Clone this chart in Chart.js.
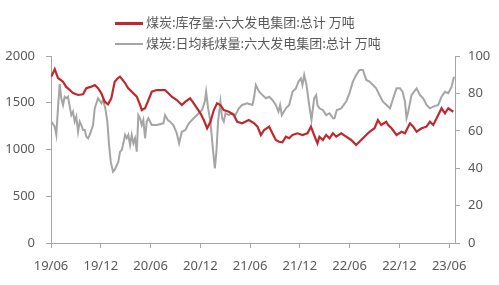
<!DOCTYPE html>
<html>
<head>
<meta charset="utf-8">
<script src="https://cdn.jsdelivr.net/npm/chart.js"></script>
<style>
  body { margin: 0; background: #fff; }
  #wrap { position: relative; width: 499px; height: 285px; }
  .legend { position: absolute; left: 115px; font: 13px "Noto Sans CJK SC", sans-serif; color: #595959; white-space: nowrap; }
  .legend span { display: inline-block; width: 28px; height: 2px; vertical-align: middle; margin-right: 3px; }
</style>
</head>
<body>
<div id="wrap">
  <canvas id="chart" width="499" height="285"></canvas>
  <div class="legend" style="top:12px"><span style="background:#c0282e;height:3px"></span>煤炭:库存量:六大发电集团:总计 万吨</div>
  <div class="legend" style="top:33px"><span style="background:#a5a5a5"></span>煤炭:日均耗煤量:六大发电集团:总计 万吨</div>
</div>
<script>
// x values are months since 2019-06
const tickMonths = [0, 6, 12, 18, 24, 30, 36, 42, 48];
const tickLabels = ['19/06', '19/12', '20/06', '20/12', '21/06', '21/12', '22/06', '22/12', '23/06'];

const stockMonths = [0.04, 0.45, 0.84, 1.45, 1.81, 2.26, 2.65, 3.26, 3.86, 4.26, 4.86, 5.27, 5.67, 6.07, 6.48, 6.88,
  7.27, 7.68, 8.08, 8.32, 8.93, 9.29, 9.89, 10.34, 10.74, 10.94, 11.34, 11.74, 12.15, 12.75, 13.75, 14.15, 14.56,
  15.16, 15.77, 16.2, 16.77, 17.21, 17.61, 18.01, 18.42, 18.82, 19.22, 19.63, 20.02, 20.42, 20.83, 21.44, 22.04,
  22.44, 23.04, 23.85, 24.49, 24.89, 25.3, 25.69, 26.3, 26.69, 27.1, 27.5, 27.9, 28.31, 28.71, 29.11, 29.71, 30.31,
  30.92, 31.33, 31.72, 32.12, 32.36, 32.77, 33.17, 33.57, 33.98, 34.38, 34.98, 35.58, 36.19, 36.79, 37.39, 38.0,
  38.4, 39.0, 39.41, 39.81, 40.41, 40.65, 41.05, 41.65, 42.26, 42.67, 43.27, 43.67, 44.07, 44.67, 45.27, 45.68,
  46.08, 46.68, 47.08, 47.49, 47.89, 48.49];
const stockValues = [1780, 1860, 1765, 1725, 1672, 1636, 1604, 1583, 1590, 1655, 1672, 1690, 1655, 1601, 1511, 1483,
  1548, 1725, 1765, 1779, 1711, 1658, 1604, 1565, 1476, 1422, 1441, 1529, 1618, 1636, 1636, 1601, 1565,
  1529, 1476, 1511, 1548, 1494, 1441, 1387, 1315, 1227, 1297, 1422, 1494, 1476, 1422, 1404, 1369,
  1297, 1280, 1315, 1280, 1244, 1155, 1209, 1244, 1173, 1102, 1083, 1077, 1137, 1120, 1155, 1173, 1155,
  1173, 1244, 1155, 1066, 1137, 1102, 1155, 1120, 1173, 1137, 1173, 1137, 1102, 1048, 1102, 1155,
  1190, 1227, 1315, 1262, 1297, 1262, 1227, 1155, 1190, 1173, 1280, 1244, 1190, 1227, 1244, 1297,
  1262, 1369, 1441, 1387, 1441, 1404];

const burnMonths = [0.04, 0.45, 0.64, 0.84, 1.05, 1.24, 1.45, 1.65, 1.85, 2.05, 2.26, 2.45, 2.65, 2.86, 3.05, 3.26,
  3.46, 3.65, 3.86, 4.07, 4.26, 4.46, 4.67, 5.07, 5.27, 5.67, 6.07, 6.27, 6.55, 6.79, 7.0, 7.2, 7.48, 7.72, 8.12,
  8.32, 8.53, 8.72, 8.93, 9.13, 9.32, 9.53, 9.73, 9.93, 10.13, 10.34, 10.53, 10.74, 10.94, 11.13, 11.34, 11.54,
  11.74, 12.15, 12.75, 13.55, 13.75, 14.08, 14.35, 14.75, 15.16, 15.44, 15.77, 16.2, 16.61, 17.21, 17.82, 18.21,
  18.54, 18.7, 18.94, 19.22, 19.51, 19.75, 19.94, 20.14, 20.42, 20.63, 20.83, 21.03, 21.44, 21.83, 22.23, 22.64,
  23.04, 23.64, 24.28, 24.49, 24.69, 25.09, 25.49, 25.9, 26.3, 26.69, 27.1, 27.42, 27.62, 27.83, 28.31, 28.71,
  29.11, 29.52, 29.83, 30.12, 30.31, 30.52, 30.8, 31.12, 31.4, 31.72, 31.96, 32.12, 32.36, 32.77, 33.17, 33.57,
  33.98, 34.17, 34.46, 34.98, 35.58, 35.98, 36.39, 36.79, 37.19, 37.6, 38.0, 38.4, 38.81, 39.2, 39.6, 40.01,
  40.45, 40.86, 41.25, 41.65, 42.06, 42.38, 42.67, 42.86, 43.06, 43.46, 44.07, 44.48, 44.87, 45.27, 45.68,
  46.08, 46.68, 47.08, 47.49, 47.89, 48.29, 48.58];
const burnValues = [64.9, 62.2, 57.8, 72.0, 85.0, 77.4, 73.8, 78.2, 77.4, 78.2, 72.9, 68.4, 70.2, 64.9, 67.5, 59.5,
  64.9, 63.1, 60.4, 60.4, 56.8, 56.0, 57.8, 63.1, 72.0, 77.4, 74.7, 76.5, 72.0, 64.9, 52.4, 43.5, 38.1, 39.5, 43.5,
  48.8, 49.7, 53.3, 57.8, 56.0, 57.8, 52.4, 57.8, 53.3, 56.0, 48.8, 68.4, 66.7, 63.1, 65.8, 56.0, 64.9,
  66.7, 63.1, 63.1, 64.0, 68.4, 65.8, 64.9, 63.1, 58.7, 53.3, 59.5, 60.4, 64.0, 66.7, 69.4, 71.1,
  75.6, 80.9, 72.0, 64.9, 50.6, 39.9, 48.8, 64.9, 75.6, 66.7, 64.9, 69.4, 68.4, 69.4, 68.4, 72.0,
  73.8, 74.7, 73.8, 78.2, 84.5, 80.9, 79.1, 77.4, 78.2, 76.5, 73.8, 70.2, 73.8, 68.4, 72.0, 73.8,
  80.9, 82.7, 86.3, 88.1, 84.5, 89.8, 84.5, 73.8, 65.8, 77.4, 79.1, 73.8, 72.0, 71.1, 68.4, 69.4,
  66.7, 66.7, 71.1, 72.0, 75.6, 80.1, 86.3, 89.8, 92.5, 92.5, 87.2, 86.3, 84.5, 82.7, 79.1, 75.6,
  73.8, 72.0, 77.4, 82.7, 82.7, 80.9, 75.6, 66.7, 70.2, 79.1, 82.7, 79.1, 77.4, 73.8, 72.0,
  72.9, 73.8, 78.2, 80.9, 80.1, 83.6, 88.9];

const tickFont = { family: 'Noto Sans', size: 13 };
const axisColor = '#a6a6a6';
const labelColor = '#595959';

function pairs(xs, ys) {
  return xs.map((x, i) => ({ x: x, y: ys[i] }));
}

new Chart(document.getElementById('chart'), {
  type: 'line',
  data: {
    datasets: [{
      label: '煤炭:库存量:六大发电集团:总计 万吨',
      data: pairs(stockMonths, stockValues),
      borderColor: '#c0282e',
      borderWidth: 2.2,
      pointRadius: 0,
      yAxisID: 'y'
    }, {
      label: '煤炭:日均耗煤量:六大发电集团:总计 万吨',
      data: pairs(burnMonths, burnValues),
      borderColor: '#a5a5a5',
      borderWidth: 2,
      pointRadius: 0,
      yAxisID: 'y1'
    }]
  },
  options: {
    responsive: false,
    animation: false,
    devicePixelRatio: 1,
    layout: { padding: { top: 56, left: 0, right: 0, bottom: 0 } },
    plugins: { legend: { display: false }, tooltip: { enabled: false } },
    scales: {
      x: {
        type: 'linear',
        min: 0,
        max: 48.7,
        afterBuildTicks: (scale) => { scale.ticks = tickMonths.map(v => ({ value: v })); },
        afterFit: (scale) => { scale.height = 42; },
        ticks: {
          color: labelColor,
          font: tickFont,
          padding: 10,
          maxRotation: 0,
          callback: (v) => tickLabels[tickMonths.indexOf(v)]
        },
        grid: { drawOnChartArea: false, drawTicks: true, tickLength: 5, color: axisColor },
        border: { color: axisColor }
      },
      y: {
        position: 'left',
        min: 0,
        max: 2000,
        afterFit: (scale) => { scale.width = 51; },
        ticks: { stepSize: 500, color: labelColor, font: tickFont, padding: 11, callback: (v) => String(v) },
        grid: { drawOnChartArea: false, drawTicks: true, tickLength: 5, color: axisColor },
        border: { color: axisColor }
      },
      y1: {
        position: 'right',
        min: 0,
        max: 100,
        afterFit: (scale) => { scale.width = 44; },
        ticks: { stepSize: 20, color: labelColor, font: tickFont, padding: 8, callback: (v) => String(v) },
        grid: { drawOnChartArea: false, drawTicks: true, tickLength: 5, color: axisColor },
        border: { color: axisColor }
      }
    }
  }
});
</script>
</body>
</html>
